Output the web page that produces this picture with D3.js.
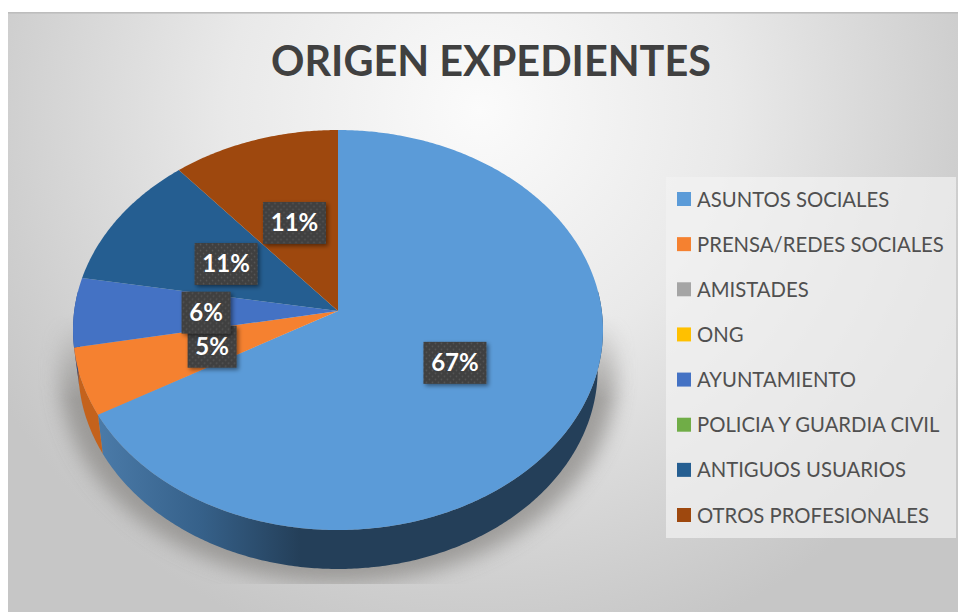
<!DOCTYPE html>
<html><head><meta charset="utf-8">
<script src="https://cdn.jsdelivr.net/npm/d3@7"></script>
<style>html,body{margin:0;padding:0;background:#fff}svg{display:block}text{font-family:Lato,sans-serif}</style>
</head><body><svg id="c" width="958" height="612"></svg>
<script>
const titleText = "ORIGEN EXPEDIENTES";
const categories = ["ASUNTOS SOCIALES","PRENSA/REDES SOCIALES","AMISTADES","ONG","AYUNTAMIENTO","POLICIA Y GUARDIA CIVIL","ANTIGUOS USUARIOS","OTROS PROFESIONALES"];
const values = [66.7,5.4,0,0,5.6,0,11.1,11.2];
const colors = ["#5b9bd8","#f58130","#a5a5a5","#ffc000","#4472c4","#70ad47","#255e91","#9e480e"];
const wallColors = ["url(#wallBlue)","#c4621c","#777","#a80","#2f4f88","#4a7a30","#1a4468","#6e3209"];

const svg = d3.select("#c");
const defs = svg.append("defs");
const W=958,H=612;

const bg = defs.append("radialGradient").attr("id","bg").attr("gradientUnits","userSpaceOnUse")
  .attr("cx",480).attr("cy",110).attr("r",560);
bg.append("stop").attr("offset","0").attr("stop-color","#fbfbfb");
bg.append("stop").attr("offset","0.45").attr("stop-color","#e9e9e9");
bg.append("stop").attr("offset","0.85").attr("stop-color","#cfcfcf");
bg.append("stop").attr("offset","1").attr("stop-color","#c6c6c6");
const wall = defs.append("linearGradient").attr("id","wallBlue").attr("gradientUnits","userSpaceOnUse").attr("x1",100).attr("x2",300).attr("y1",0).attr("y2",0);
wall.append("stop").attr("offset","0").attr("stop-color","#4a7aa8");
wall.append("stop").attr("offset","0.5").attr("stop-color","#36618a");
wall.append("stop").attr("offset","1").attr("stop-color","#243f59");
const blur = defs.append("filter").attr("id","blur").attr("x","-20%").attr("y","-20%").attr("width","140%").attr("height","140%");
blur.append("feGaussianBlur").attr("stdDeviation",10);
const ds = defs.append("filter").attr("id","ds").attr("x","-30%").attr("y","-30%").attr("width","160%").attr("height","160%");
ds.append("feDropShadow").attr("dx",2).attr("dy",2).attr("stdDeviation",2).attr("flood-color","#000").attr("flood-opacity",.45);
const pat = defs.append("pattern").attr("id","dots").attr("width",6).attr("height",6).attr("patternUnits","userSpaceOnUse");
pat.append("rect").attr("width",6).attr("height",6).attr("fill","#3f3f3f");
pat.append("circle").attr("cx",1.5).attr("cy",1.5).attr("r",.9).attr("fill","#555");
pat.append("circle").attr("cx",4.5).attr("cy",4.5).attr("r",.9).attr("fill","#555");
const fade = defs.append("linearGradient").attr("id","fade").attr("gradientUnits","userSpaceOnUse").attr("x1",0).attr("x2",0).attr("y1",315).attr("y2",400);
fade.append("stop").attr("offset","0").attr("stop-color","#000");
fade.append("stop").attr("offset","1").attr("stop-color","#fff");
const mask = defs.append("mask").attr("id","shadowMask").attr("maskUnits","userSpaceOnUse").attr("x",0).attr("y",0).attr("width",W).attr("height",H);
mask.append("rect").attr("x",30).attr("y",315).attr("width",620).attr("height",269).attr("fill","url(#fade)");

svg.append("rect").attr("x",8).attr("y",12).attr("width",W-8).attr("height",H-12).attr("fill","url(#bg)");
svg.append("rect").attr("x",8).attr("y",12).attr("width",W-8).attr("height",1.6).attr("fill","#bdbdbd");

svg.append("text").attr("x",491).attr("y",76).attr("text-anchor","middle").attr("font-size",41.4).attr("font-weight",700).attr("fill","#404040").text(titleText);

// perspective projection of the tilted disc
const cx=338, apexY=311, persp=0.095, ky=-168.65, kx=263.8, depth=39, baseScale=0.98;
const proj=(a,r=1)=>{const u=Math.sin(a)*r,v=Math.cos(a)*r,w=1+persp*v;return [cx+kx*u/w,(apexY+ky*v)/w];};
const projBase=a=>{const p=proj(a);return [cx+(p[0]-cx)*baseScale,p[1]+depth];};
const sample=(a0,a1)=>{const n=Math.max(2,Math.ceil((a1-a0)/0.01));return d3.range(n+1).map(i=>a0+(a1-a0)*i/n);};
const line=d3.line();

const arcs=d3.pie().value(d=>d).sort(null)(values);

// shadow
const full=sample(0,2*Math.PI);
svg.append("g").attr("mask","url(#shadowMask)").append("path")
  .attr("d",line(full.map(a=>{const p=proj(a,1.05);return [p[0],p[1]+depth+2];}))+"Z")
  .attr("fill","#8f8d8a").attr("opacity",.8).attr("filter","url(#blur)");

// side wall: only the part of the rim facing the viewer
const rimStart=Math.PI/2-0.1, rimEnd=3*Math.PI/2+0.1;
svg.append("g").selectAll("path").data(arcs.filter(d=>d.value>0)).join("path")
  .each(function(d){
    const a0=Math.max(d.startAngle,rimStart),a1=Math.min(d.endAngle,rimEnd);
    if(a1<=a0){d3.select(this).remove();return;}
    const s=sample(a0,a1);
    d3.select(this).attr("d",line(s.map(a=>proj(a)).concat(s.slice().reverse().map(projBase)))+"Z")
      .attr("fill",wallColors[d.index]);
  });

// top face
svg.append("g").selectAll("path").data(arcs.filter(d=>d.value>0)).join("path")
  .attr("d",d=>line([proj(0,0)].concat(sample(d.startAngle,d.endAngle).map(a=>proj(a))))+"Z")
  .attr("fill",d=>colors[d.index]);

// data labels
const lab=svg.append("g").selectAll("g").data(arcs.filter(d=>d.value>0)).join("g")
  .attr("transform",d=>{const p=proj((d.startAngle+d.endAngle)/2,.5);return `translate(${p[0]},${p[1]+1})`;});
lab.each(function(d){
  const g=d3.select(this),t=Math.round(d.value)+"%",w=d.value>=10?63:49,h=42;
  g.append("rect").attr("x",-w/2).attr("y",-h/2).attr("width",w).attr("height",h).attr("fill","url(#dots)").attr("filter","url(#ds)");
  g.append("text").attr("text-anchor","middle").attr("y",8).attr("font-size",24).attr("font-weight",700).attr("fill","#fff").text(t);
});

// legend
const legY=d3.scalePoint().domain(categories).range([199,515]);
svg.append("rect").attr("x",666).attr("y",177).attr("width",290).attr("height",361).attr("fill","#f2f2f2").attr("opacity",.7);
const leg=svg.append("g").selectAll("g").data(categories).join("g").attr("transform",d=>`translate(677,${legY(d)})`);
leg.append("rect").attr("y",-7).attr("width",14).attr("height",14).attr("fill",(d,i)=>colors[i]);
leg.append("text").attr("x",20).attr("y",7.5).attr("font-size",20.3).attr("fill","#505050").text(d=>d);
</script></body></html>
